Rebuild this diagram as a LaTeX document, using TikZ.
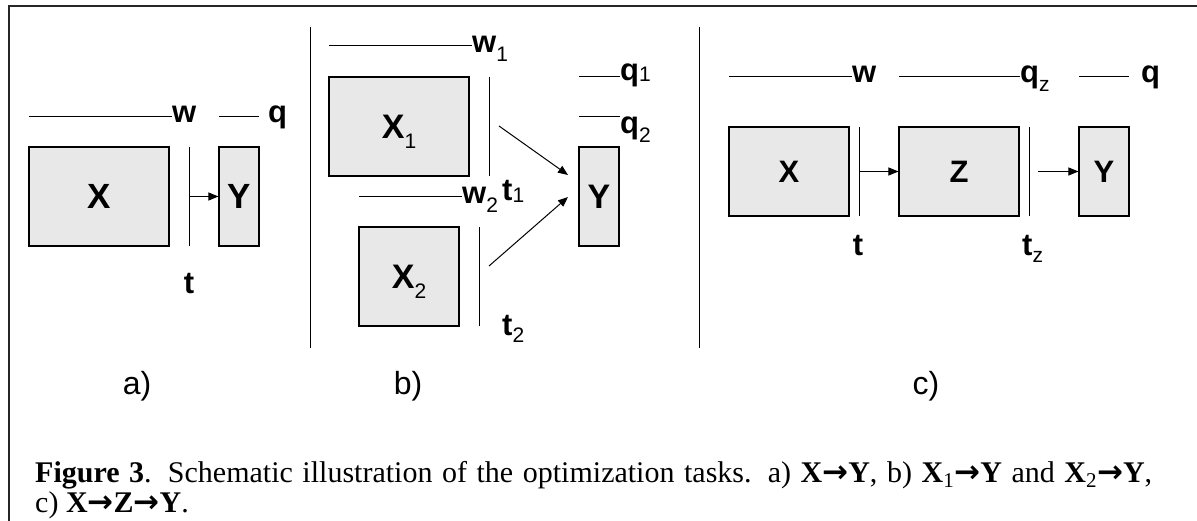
\documentclass[tikz,border=0pt]{standalone}
\usepackage{fontspec}
\setmainfont{Liberation Serif}
\newfontfamily\arial{Liberation Sans}
\newfontfamily\arrfont{DejaVu Sans}
\usetikzlibrary{arrows.meta}
\definecolor{boxgray}{HTML}{E8E8E8}
\newcommand{\lsub}[2][-8pt]{\raisebox{#1}{\fontsize{21}{21}\selectfont\mdseries #2}}
\newcommand{\rarr}{{\arrfont\bfseries\fontsize{31}{31}\selectfont →}}
\begin{document}
\begin{tikzpicture}[x=1pt,y=-1pt,
  box/.style={draw, line width=1.1pt, fill=boxgray, inner sep=0pt, text depth=0pt},
  thr/.style={line width=1pt},
  arr/.style={line width=1pt, -{Triangle[length=10pt,width=8pt]}},
  lbl/.style={font=\arial\bfseries\fontsize{31}{31}\selectfont, inner sep=0pt},
  big/.style={font=\arial\bfseries\fontsize{#1}{#1}\selectfont},
  panel/.style={font=\arial\fontsize{32}{32}\selectfont, inner sep=0pt, anchor=base},
  captext/.style={font=\fontsize{30}{30}\selectfont, inner sep=0pt, anchor=base west},
  frame/.style={line width=2pt, draw=black!85}
]
\useasboundingbox (0,0) rectangle (1197,521);
% frame
\coordinate (f1) at (1197,6);
\coordinate (f2) at (9,6);
\coordinate (f3) at (9,521);
\draw[frame] (f1) -- (f2) -- (f3);
% separators
\coordinate (s1t) at (310,27); \coordinate (s1b) at (310,348);
\coordinate (s2t) at (699,27); \coordinate (s2b) at (699,348);
\draw[thr] (s1t) -- (s1b);
\draw[thr] (s2t) -- (s2b);

% ---------- panel a ----------
\node[box, big=35, minimum width=140pt, minimum height=99pt] (Xa) at (99,196.5) {X};
\node[box, big=35, minimum width=40pt, minimum height=99pt] (Ya) at (239,196.5) {Y};
\coordinate (tat) at (189,147); \coordinate (tab) at (189,246);
\draw[thr] (tat) -- (tab);
\draw[arr] (tat |- Ya.west) -- (Ya.west);
\node[lbl, anchor=base west] (wa) at (172,123) {w};
\coordinate (was) at (29,117);
\draw[thr] (was) -- (was -| wa.west);
\node[lbl, anchor=base west] (qa) at (268,123) {q};
\coordinate (qas) at (219,117); \coordinate (qae) at (259,117);
\draw[thr] (qas) -- (qae);
\node[lbl, anchor=base] (ta) at (189,294) {t};

% ---------- panel b ----------
\node[box, big=34, minimum width=140pt, minimum height=99pt] (X1) at (399,126.5) {X\lsub[-10pt]{1}};
\node[box, big=34, minimum width=100pt, minimum height=99pt] (X2) at (409,276.5) {X\lsub[-10pt]{2}};
\node[box, big=34, minimum width=40pt, minimum height=99pt] (Yb) at (599,196.5) {Y};
\node[lbl, anchor=base west] (w1) at (472,53) {w\lsub[-9pt]{1}};
\coordinate (w1s) at (329,46);
\draw[thr] (w1s) -- (w1s -| w1.west);
\node[lbl, anchor=base west] (w2) at (462,204) {w\lsub[-9pt]{2}};
\coordinate (w2s) at (359,197);
\draw[thr] (w2s) -- (w2s -| w2.west);
\coordinate (t1t) at (489,77); \coordinate (t1b) at (489,176);
\draw[thr] (t1t) -- (t1b);
\coordinate (t2t) at (479,227); \coordinate (t2b) at (479,326);
\draw[thr] (t2t) -- (t2b);
\node[lbl, anchor=base west] (t1) at (502,201) {t\lsub[-2pt]{1}};
\node[lbl, anchor=base west] (t2) at (502,336) {t\lsub[-7pt]{2}};
\node[lbl, anchor=base west] (q1) at (620,81) {q\lsub[-1pt]{1}};
\node[lbl, anchor=base west] (q2) at (620,134) {q\lsub[-9pt]{2}};
\coordinate (q1s) at (579,77); \coordinate (q2s) at (579,117);
\draw[thr] (q1s) -- (q1s -| q1.west);
\draw[thr] (q2s) -- (q2s -| q2.west);
\coordinate (a1s) at (499,126); \coordinate (a1e) at (568,175);
\coordinate (a2s) at (489,266); \coordinate (a2e) at (568,197);
\draw[arr] (a1s) -- (a1e);
\draw[arr] (a2s) -- (a2e);

% ---------- panel c ----------
\node[box, big=31, minimum width=120pt, minimum height=89pt] (Xc) at (789,171.5) {X};
\node[box, big=31, minimum width=120pt, minimum height=89pt] (Zc) at (959,171.5) {Z};
\node[box, big=31, minimum width=50pt, minimum height=89pt] (Yc) at (1104,171.5) {Y};
\coordinate (tct) at (859,127); \coordinate (tcb) at (859,216);
\draw[thr] (tct) -- (tcb);
\coordinate (tzt) at (1029,127); \coordinate (tzb) at (1029,216);
\draw[thr] (tzt) -- (tzb);
\draw[arr] (tct |- Zc.west) -- (Zc.west);
\coordinate (a3s) at (1038,171.5);
\draw[arr] (a3s) -- (Yc.west);
\node[lbl, anchor=base west] (wc) at (852,83) {w};
\coordinate (wcs) at (729,77);
\draw[thr] (wcs) -- (wcs -| wc.west);
\node[lbl, anchor=base west] (qz) at (1020,83) {q\lsub[-9pt]{z}};
\coordinate (qzs) at (899,77);
\draw[thr] (qzs) -- (qzs -| qz.west);
\node[lbl, anchor=base west] (qc) at (1141,83) {q};
\coordinate (qcs) at (1079,77); \coordinate (qce) at (1129,77);
\draw[thr] (qcs) -- (qce);
\node[lbl, anchor=base] (tc) at (858,256) {t};
\node[lbl, anchor=base west] (tz) at (1022,256) {t\lsub[-7pt]{z}};

% panel labels
\node[panel] (la) at (137,394) {a)};
\node[panel] (lb) at (408,394) {b)};
\node[panel] (lc) at (926,394) {c)};

% caption
\node[captext] (cap1) at (35,482) {\makebox[1117pt][s]{\textbf{Figure 3}. Schematic illustration of the optimization tasks. a) \textbf{X\rarr Y}, b) \textbf{X}\textsubscript{1}\textbf{\rarr Y} and \textbf{X}\textsubscript{2}\textbf{\rarr Y},}};
\node[captext] (cap2) at (35,512) {c) \textbf{X\rarr Z\rarr Y}.};
\end{tikzpicture}
\end{document}
